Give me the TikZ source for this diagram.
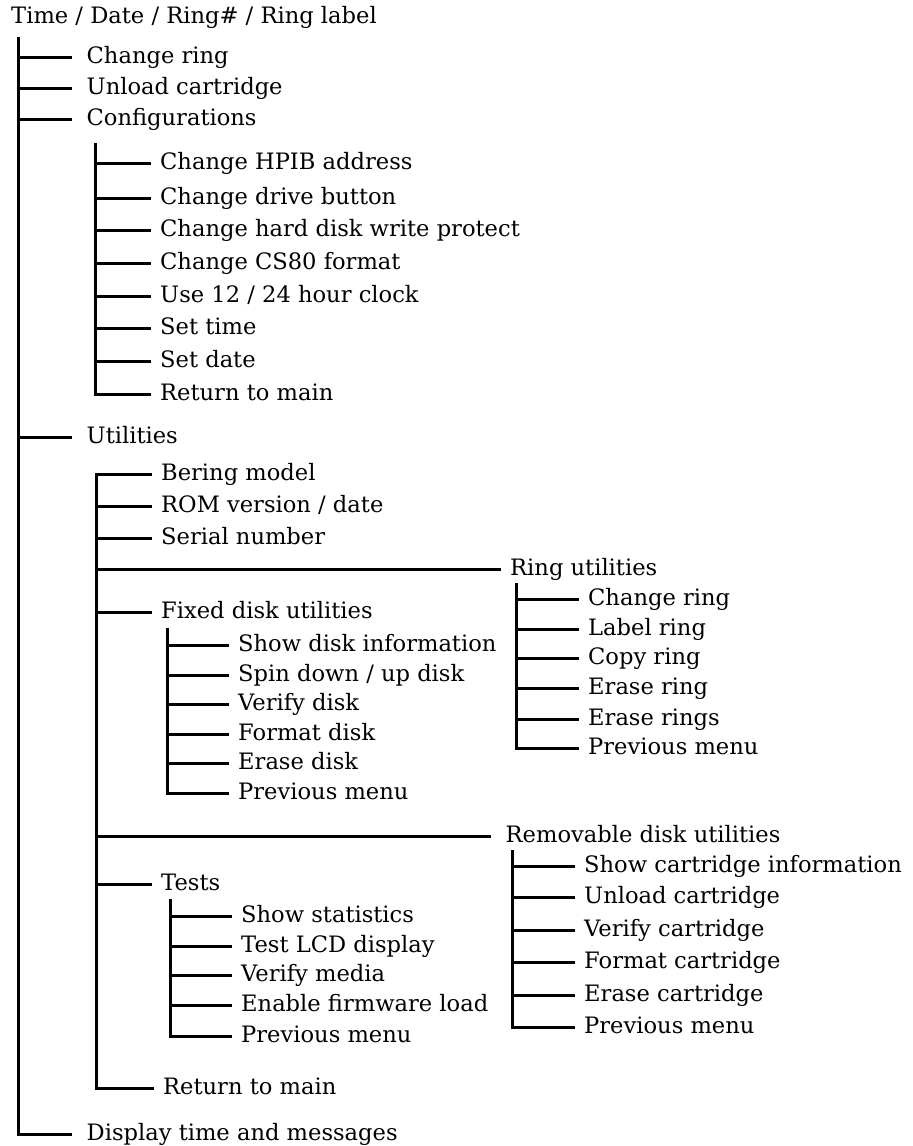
\documentclass[tikz,border=0pt]{standalone}
\usepackage{fontspec}
\setmainfont{DejaVu Serif}

\begin{document}
\begin{tikzpicture}[x=1pt, y=-1pt,
    every node/.style={anchor=west, inner xsep=9pt, inner ysep=0pt, text height=13pt, text depth=0pt, font=\fontsize{22.6}{26}\selectfont},
    main/.style={inner xsep=14.5pt},
    trunk/.style={draw, line width=3pt},
    branch/.style={draw, line width=3pt}
]
    \useasboundingbox (0,0) rectangle (913,1146);

    \node (root) at (2,17) {Time / Date / Ring\# / Ring label};

    \node[main] (chring)  at (72,57)   {Change ring};
    \node[main] (unload)  at (72,88)   {Unload cartridge};
    \node[main] (config)  at (72,119)  {Configurations};
    \node[main] (util)    at (72,437)  {Utilities};
    \node[main] (display) at (72,1134) {Display time and messages};

    \node (hpib)    at (151,163) {Change HPIB address};
    \node (button)  at (151,198) {Change drive button};
    \node (protect) at (151,230) {Change hard disk write protect};
    \node (cs80)    at (151,263) {Change CS80 format};
    \node (clock)   at (151,296) {Use 12 / 24 hour clock};
    \node (settime) at (151,328) {Set time};
    \node (setdate) at (151,361) {Set date};
    \node (cfgret)  at (151,394) {Return to main};

    \node (bering) at (152,474)  {Bering model};
    \node (rom)    at (152,506)  {ROM version / date};
    \node (serial) at (152,538)  {Serial number};
    \node (ring)   at (501,569)  {Ring utilities};
    \node (fixed)  at (152,612)  {Fixed disk utilities};
    \node[main] (remov) at (491,836) {Removable disk utilities};
    \node (tests)  at (152,884)  {Tests};
    \node (utlret) at (154,1088) {Return to main};

    \node (fxshow)  at (229,645) {Show disk information};
    \node (fxspin)  at (229,675) {Spin down / up disk};
    \node (fxverif) at (229,704) {Verify disk};
    \node (fxform)  at (229,734) {Format disk};
    \node (fxerase) at (229,763) {Erase disk};
    \node (fxprev)  at (229,793) {Previous menu};

    \node (rgchange) at (579,599) {Change ring};
    \node (rglabel)  at (579,629) {Label ring};
    \node (rgcopy)   at (579,658) {Copy ring};
    \node (rgerase)  at (579,688) {Erase ring};
    \node (rgerases) at (579,719) {Erase rings};
    \node (rgprev)   at (579,748) {Previous menu};

    \node (rmshow)  at (575,866)  {Show cartridge information};
    \node (rmunld)  at (575,897)  {Unload cartridge};
    \node (rmverif) at (575,930)  {Verify cartridge};
    \node (rmform)  at (575,962)  {Format cartridge};
    \node (rmerase) at (575,995)  {Erase cartridge};
    \node (rmprev)  at (575,1027) {Previous menu};

    \node (tsstat)  at (232,916)  {Show statistics};
    \node (tslcd)   at (232,946)  {Test LCD display};
    \node (tsmedia) at (232,975)  {Verify media};
    \node (tsfirm)  at (232,1005) {Enable firmware load};
    \node (tsprev)  at (232,1036) {Previous menu};

    % trunks
    \coordinate (t0) at (18,37);
    \coordinate (t1) at (95,143);
    \coordinate (t2) at (96.5,474);
    \coordinate (t3) at (167,628);
    \coordinate (t4) at (516,583);
    \coordinate (t5) at (512.5,850);
    \coordinate (t6) at (170,899);

    \draw[trunk] (t0) |- (display.west);
    \foreach \n in {chring, unload, config, util}
        \draw[branch] (t0 |- \n.west) -- (\n.west);

    \draw[trunk] (t1) |- (cfgret.west);
    \foreach \n in {hpib, button, protect, cs80, clock, settime, setdate}
        \draw[branch] (t1 |- \n.west) -- (\n.west);

    \draw[trunk] (bering.west) -- (t2) |- (utlret.west);
    \foreach \n in {rom, serial, ring, fixed, remov, tests}
        \draw[branch] (t2 |- \n.west) -- (\n.west);

    \draw[trunk] (t3) |- (fxprev.west);
    \foreach \n in {fxshow, fxspin, fxverif, fxform, fxerase}
        \draw[branch] (t3 |- \n.west) -- (\n.west);

    \draw[trunk] (t4) |- (rgprev.west);
    \foreach \n in {rgchange, rglabel, rgcopy, rgerase, rgerases}
        \draw[branch] (t4 |- \n.west) -- (\n.west);

    \draw[trunk] (t5) |- (rmprev.west);
    \foreach \n in {rmshow, rmunld, rmverif, rmform, rmerase}
        \draw[branch] (t5 |- \n.west) -- (\n.west);

    \draw[trunk] (t6) |- (tsprev.west);
    \foreach \n in {tsstat, tslcd, tsmedia, tsfirm}
        \draw[branch] (t6 |- \n.west) -- (\n.west);
\end{tikzpicture}
\end{document}
